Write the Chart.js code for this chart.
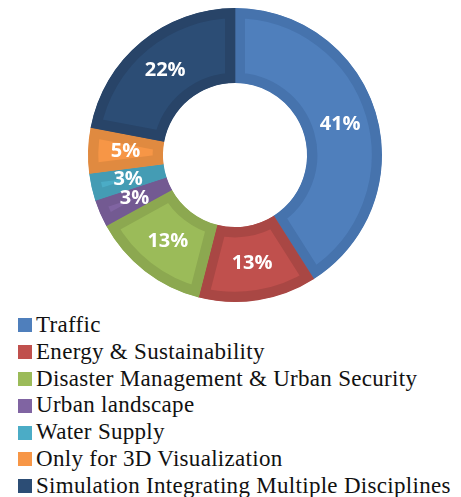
<!DOCTYPE html>
<html>
<head>
<meta charset="utf-8">
<script src="https://cdn.jsdelivr.net/npm/chart.js@4"></script>
<style>
  html, body { margin: 0; padding: 0; background: #fff; }
  #wrap { position: relative; width: 461px; height: 497px; overflow: hidden; }
  #donutBox { position: absolute; left: 0; top: 0; width: 461px; height: 310px; }
  #legend { position: absolute; left: 18px; top: 312px; font-family: "Liberation Serif", "Times New Roman", serif; font-size: 23px; letter-spacing: 0.3px; line-height: 26.8px; color: #111; }
  #legend .row { display: flex; align-items: center; white-space: nowrap; }
  #legend .box { width: 14px; height: 14px; margin-right: 4px; flex: none; }
</style>
</head>
<body>
<div id="wrap">
  <div id="donutBox"><canvas id="donut"></canvas></div>
  <div id="legend"></div>
</div>
<script>
const categories = ['Traffic', 'Energy & Sustainability', 'Disaster Management & Urban Security', 'Urban landscape', 'Water Supply', 'Only for 3D Visualization', 'Simulation Integrating Multiple Disciplines']
const shares = [41, 13, 13, 3, 3, 5, 22]
const fills = ['#4f7fbc', '#c0504d', '#9bbb59', '#8064a2', '#4bacc6', '#f79646', '#2c4d75']
const edges = ['#4673ad', '#a94744', '#8ca850', '#735a92', '#449cb4', '#e08a40', '#284468']

const $c = id => document.getElementById(id)

// percent labels at the middle of each ring slice
const sliceLabels = {
  id: 'sliceLabels',
  afterDatasetsDraw(chart) {
    const ctx = chart.ctx
    const meta = chart.getDatasetMeta(0)
    ctx.save()
    ctx.fillStyle = '#fff'
    ctx.font = 'bold 20px "Open Sans", sans-serif'
    ctx.textAlign = 'center'; ctx.textBaseline = 'middle'
    meta.data.forEach((arc, i) => {
      const p = arc.tooltipPosition()
      ctx.fillText(shares[i] + '%', p.x, p.y)
    })
    ctx.restore()
  }
}

new Chart($c('donut'), {
  type: 'doughnut',
  data: {
    labels: categories,
    datasets: [{ data: shares, backgroundColor: fills, borderColor: edges, borderWidth: 10, borderAlign: 'inner', hoverOffset: 0 }]
  },
  options: {
    responsive: true, maintainAspectRatio: false, animation: false,
    cutout: '49%',
    layout: { padding: { top: 8, bottom: 8, left: 9, right: 0 } },
    plugins: { legend: { display: false }, tooltip: { enabled: false } }
  },
  plugins: [sliceLabels]
})

// legend built from the same arrays, one entry per line
const legendEl = $c('legend')
categories.forEach((name, i) => {
  const row = document.createElement('div'); row.className = 'row'
  const box = document.createElement('span'); box.className = 'box'; box.style.background = fills[i]
  const txt = document.createElement('span'); txt.textContent = name
  row.appendChild(box); row.appendChild(txt); legendEl.appendChild(row)
})
</script>
</body>
</html>
